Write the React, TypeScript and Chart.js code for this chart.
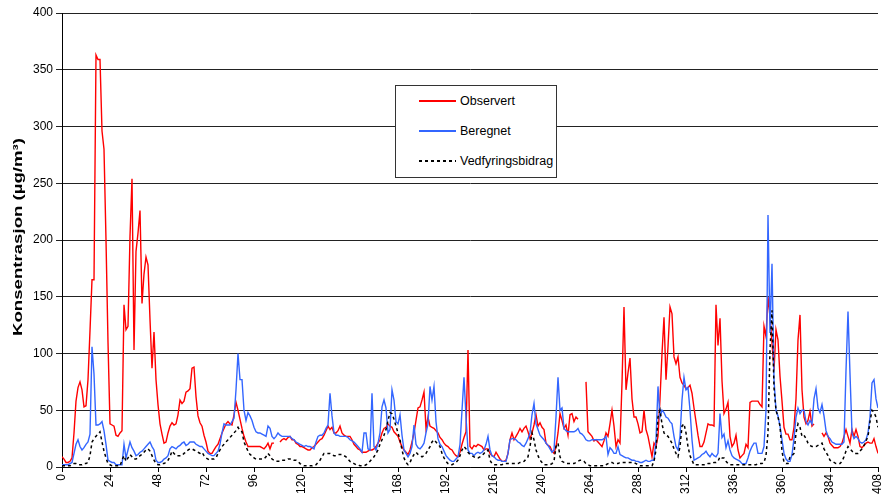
import React, { useEffect, useRef } from 'react';
import { Chart, registerables } from 'chart.js';

Chart.register(...registerables);

// Hourly values, hour 0..408
const observert: (number | null)[] = [
  /*0*/ 9, 7, 4, 4, 5, 8, 30, 58, 70, 75, 68, 53,
  /*12*/ 54, 77, 120, 165, 165, 363, 359, 359, 296, 280, 200, 110,
  /*24*/ 38, 37, 36, 28, 27, 30, 32, 143, 121, 124, 203, 254,
  /*36*/ 103, 190, 206, 226, 144, 170, 185, 178, 130, 87, 119, 77,
  /*48*/ 55, 38, 29, 21, 22, 30, 36, 39, 37, 38, 46, 59,
  /*60*/ 56, 58, 66, 67, 69, 87, 88, 62, 45, 39, 36, 28,
  /*72*/ 22, 14, 12, 12, 15, 18, 20, 25, 30, 34, 38, 40,
  /*84*/ 38, 37, 46, 57, 50, 42, 34, 27, 22, 18, 18, 18,
  /*96*/ 18, 18, 18, 18, 17, 16, 18, 21, 16, 21, 21, null,
  /*108*/ null, 22, 24, 25, 24, 26, 27, 24, 24, 21, 20, 18,
  /*120*/ 18, 17, 16, 15, 15, 17, 18, 20, 22, 24, 25, 28,
  /*132*/ 32, 36, 33, 35, 30, 30, 32, 36, 30, 28, 27, 27,
  /*144*/ 27, 24, 20, 18, 16, 15, 13, 13, 13, 14, 15, 15,
  /*156*/ 16, 18, 21, 24, 30, 34, 35, 38, 36, 35, 31, 29,
  /*168*/ 27, 22, 18, 15, 13, 11, 15, 22, 30, 41, 52, 53,
  /*180*/ 59, 66, 34, 44, 36, 35, 34, 32, 30, 26, 24, 21,
  /*192*/ 19, 18, 16, 15, 12, 10, 9, 13, 20, 26, 31, 103,
  /*204*/ 18, 16, 19, 18, 20, 19, 18, 15, 16, 16, 12, 10,
  /*216*/ 9, 13, 10, 7, 5, 5, 6, 12, 24, 30, 24, 27,
  /*228*/ 30, 34, 31, 34, 36, 31, 25, 30, 37, 46, 36, 39,
  /*240*/ 35, 33, 21, 19, 18, 14, 12, 18, 30, 47, 41, 34,
  /*252*/ 37, 28, 46, 47, 40, 44, 42, null, null, null, 75, 31,
  /*264*/ 29, 27, 23, 24, 22, 20, 18, 23, 30, 27, 38, 50,
  /*276*/ 36, 18, 24, 21, 74, 141, 68, 83, 96, 60, 44, 44,
  /*288*/ 38, 30, 31, 50, 33, 27, 18, 9, 21, 18, 27, 60,
  /*300*/ 100, 132, 77, 106, 141, 135, 97, 91, 97, 79, 74, 72,
  /*312*/ 69, 70, 72, 65, 52, 40, 28, 18, 18, 22, 30, 38,
  /*324*/ 37, 37, 36, 143, 107, 131, 76, 47, 51, 57, 27, 18,
  /*336*/ 21, 28, 15, 8, 10, 12, 20, 17, 57, 58, 58, 58,
  /*348*/ 58, 55, 53, 124, 115, 150, 132, 109, 85, 121, 112, 80,
  /*360*/ 58, 35, 29, 29, 24, 24, 35, 60, 112, 134, 68, 44,
  /*372*/ 38, 41, 49, 36, 38, null, null, null, 30, 27, 30, 27,
  /*384*/ 21, 19, 17, 17, 17, 18, 21, 27, 33, 27, 21, 33,
  /*396*/ 27, 33, 27, 18, 17, 19, 21, 22, 21, 21, 25, 18, 12,
];

const beregnet: number[] = [
  /*0*/ 2, 2, 2, 2, 3, 4, 12, 20, 24, 18, 15, 17,
  /*12*/ 20, 22, 29, 106, 82, 37, 37, 38, 40, 32, 20, 6,
  /*24*/ 5, 4, 4, 2, 2, 2, 2, 20, 8, 15, 22, 17,
  /*36*/ 14, 10, 11, 13, 14, 16, 18, 20, 22, 18, 15, 6,
  /*48*/ 4, 4, 5, 7, 8, 10, 16, 18, 17, 16, 18, 19,
  /*60*/ 21, 22, 19, 20, 22, 22, 22, 20, 19, 18, 18, 16,
  /*72*/ 14, 12, 11, 10, 10, 12, 14, 20, 30, 38, 37, 37,
  /*84*/ 37, 40, 43, 68, 100, 77, 77, 50, 41, 48, 45, 41,
  /*96*/ 35, 31, 30, 30, 29, 28, 27, 36, 34, 27, 25, 27,
  /*108*/ 30, 28, 27, 27, 27, 27, 27, 25, 24, 22, 21, 20,
  /*120*/ 19, 18, 19, 18, 18, 17, 16, 22, 27, 28, 28, 30,
  /*132*/ 34, 37, 65, 45, 30, 28, 28, 27, 27, 27, 27, 26,
  /*144*/ 24, 23, 22, 20, 18, 16, 13, 30, 30, 16, 15, 65,
  /*156*/ 18, 15, 21, 30, 53, 59, 52, 30, 33, 68, 59, 40,
  /*168*/ 38, 46, 28, 15, 12, 9, 12, 18, 37, 20, 17, 16,
  /*180*/ 18, 21, 30, 38, 71, 59, 71, 40, 25, 20, 18, 14,
  /*192*/ 10, 8, 6, 5, 5, 7, 9, 20, 50, 79, 44, 15,
  /*204*/ 12, 12, 10, 12, 13, 12, 13, 15, 20, 27, 15, 10,
  /*216*/ 9, 7, 6, 6, 5, 5, 5, 12, 24, 25, 25, 24,
  /*228*/ 22, 21, 19, 18, 21, 25, 30, 46, 56, 38, 33, 28,
  /*240*/ 26, 24, 21, 19, 16, 13, 15, 44, 79, 50, 52, 34,
  /*252*/ 32, 31, 31, 31, 31, 32, 34, 30, 29, 27, 24, 23,
  /*264*/ 23, 24, 24, 24, 24, 24, 24, 25, 27, 11, 17, 15,
  /*276*/ 12, 12, 18, 11, 10, 9, 8, 8, 7, 6, 6, 5,
  /*288*/ 5, 4, 4, 5, 6, 5, 5, 6, 6, 24, 71, 44,
  /*300*/ 50, 48, 44, 43, 40, 38, 27, 18, 15, 27, 59, 79,
  /*312*/ 68, 70, 50, 24, 6, 7, 8, 9, 11, 12, 14, 11,
  /*324*/ 9, 12, 10, 9, 12, 47, 26, 29, 17, 23, 15, 10,
  /*336*/ 8, 7, 6, 5, 3, 3, 3, 8, 14, 18, 21, 21,
  /*348*/ 12, 12, 12, 18, 50, 222, 118, 179, 77, 50, 45, 36,
  /*360*/ 24, 12, 7, 5, 5, 11, 25, 44, 52, 47, 50, 50,
  /*372*/ 40, 37, 41, 38, 60, 69, 52, 48, 55, 45, 32, 27,
  /*384*/ 25, 22, 21, 20, 20, 20, 20, 22, 85, 137, 82, 30,
  /*396*/ 25, 27, 25, 22, 21, 22, 24, 30, 44, 74, 77, 60, 52,
];

const vedfyringsbidrag: number[] = [
  /*0*/ 1, 1, 1, 1, 1, 2, 3, 3, 2, 2, 2, 3,
  /*12*/ 3, 4, 10, 22, 25, 27, 29, 31, 22, 14, 8, 3,
  /*24*/ 2, 1, 1, 1, 1, 1, 6, 10, 5, 8, 11, 9,
  /*36*/ 7, 7, 8, 10, 11, 13, 15, 16, 14, 10, 6, 3,
  /*48*/ 2, 2, 3, 3, 4, 6, 9, 14, 12, 10, 10, 10,
  /*60*/ 10, 12, 13, 15, 16, 16, 15, 14, 13, 12, 13, 10,
  /*72*/ 8, 7, 6, 7, 7, 8, 12, 15, 18, 20, 22, 24,
  /*84*/ 26, 28, 30, 32, 35, 32, 31, 22, 18, 14, 11, 10,
  /*96*/ 8, 7, 7, 7, 7, 7, 9, 12, 10, 7, 6, 5,
  /*108*/ 5, 5, 6, 6, 6, 7, 7, 7, 6, 6, 5, 3,
  /*120*/ 2, 1, 1, 1, 1, 1, 2, 2, 4, 6, 9, 12,
  /*132*/ 12, 12, 12, 11, 10, 10, 11, 11, 11, 10, 9, 7,
  /*144*/ 5, 4, 3, 2, 2, 1, 1, 1, 2, 3, 5, 7,
  /*156*/ 9, 12, 15, 20, 24, 28, 33, 41, 48, 47, 42, 36,
  /*168*/ 30, 24, 15, 8, 4, 2, 4, 8, 11, 13, 11, 10,
  /*180*/ 9, 10, 12, 15, 18, 22, 24, 22, 20, 18, 12, 8,
  /*192*/ 5, 3, 2, 2, 3, 4, 6, 10, 15, 18, 16, 13,
  /*204*/ 11, 10, 9, 8, 8, 9, 10, 12, 14, 15, 6, 3,
  /*216*/ 2, 2, 2, 2, 2, 3, 3, 3, 3, 3, 3, 3,
  /*228*/ 3, 4, 4, 5, 7, 9, 18, 30, 24, 15, 10, 6,
  /*240*/ 4, 2, 2, 2, 2, 3, 5, 18, 21, 9, 5, 4,
  /*252*/ 3, 3, 3, 3, 3, 4, 5, 6, 6, 5, 3, 2,
  /*264*/ 1, 1, 1, 1, 1, 1, 1, 1, 2, 3, 4, 4,
  /*276*/ 3, 3, 3, 4, 4, 4, 4, 4, 4, 4, 4, 3,
  /*288*/ 2, 1, 1, 1, 1, 1, 1, 1, 5, 15, 44, 50,
  /*300*/ 38, 30, 28, 27, 24, 21, 16, 12, 9, 18, 36, 38,
  /*312*/ 30, 18, 10, 6, 2, 2, 2, 2, 2, 2, 2, 3,
  /*324*/ 3, 3, 4, 4, 5, 9, 8, 8, 5, 3, 2, 2,
  /*336*/ 2, 2, 2, 2, 2, 2, 2, 2, 2, 2, 2, 2,
  /*348*/ 3, 3, 3, 4, 10, 30, 103, 138, 70, 50, 44, 36,
  /*360*/ 14, 4, 3, 3, 9, 10, 12, 30, 38, 35, 27, 28,
  /*372*/ 25, 21, 19, 18, 18, 18, 19, 20, 21, 16, 13, 10,
  /*384*/ 6, 5, 4, 3, 3, 3, 5, 9, 14, 18, 16, 14,
  /*396*/ 12, 12, 12, 14, 16, 19, 23, 27, 40, 50, 48, 44, 35,
];

const xMax = 408;
const xStep = 24;
const yMax = 400;
const yStep = 50;
const yTitle = 'Konsentrasjon (µg/m³)';
const seriesLabels = ['Observert', 'Beregnet', 'Vedfyringsbidrag'];
const FONT = '"Liberation Sans", Arial, Helvetica, sans-serif';

const toPoints = (arr: (number | null)[]) => arr.map((v, i) => ({ x: i, y: v }));

// Draws the y-axis title condensed (tall, narrow glyphs) like the reference.
const yTitlePlugin = {
  id: 'yTitleCondensed',
  afterDraw(chart: any) {
    const { ctx, chartArea } = chart;
    ctx.save();
    ctx.font = `bold 12px ${FONT}`;
    ctx.fillStyle = '#000';
    const w = ctx.measureText(yTitle).width;
    const cy = (chartArea.top + chartArea.bottom) / 2 - 3;
    ctx.translate(22, cy);
    ctx.rotate(-Math.PI / 2);
    ctx.scale(198 / w, 1);
    ctx.textAlign = 'center';
    ctx.textBaseline = 'alphabetic';
    ctx.fillText(yTitle, 0, 0);
    ctx.restore();
  },
};

export default function App() {
  const ref = useRef<HTMLCanvasElement>(null);

  useEffect(() => {
    if (!ref.current) return;
    const chart = new Chart(ref.current, {
      type: 'line',
      data: {
        datasets: [
          { label: seriesLabels[0], data: toPoints(observert), borderColor: '#ff0000', borderWidth: 1.4, pointRadius: 0, order: 3, spanGaps: false },
          { label: seriesLabels[1], data: toPoints(beregnet), borderColor: '#3366ff', borderWidth: 1.4, pointRadius: 0, order: 2 },
          { label: seriesLabels[2], data: toPoints(vedfyringsbidrag), borderColor: '#000000', borderWidth: 1.5, borderDash: [3, 3], pointRadius: 0, order: 1 },
        ],
      } as any,
      options: {
        animation: false,
        responsive: true,
        maintainAspectRatio: false,
        layout: { padding: { top: 13, right: 4, left: 0, bottom: 0 } },
        plugins: { legend: { display: false }, tooltip: { enabled: false } },
        elements: { line: { tension: 0 } },
        scales: {
          x: {
            type: 'linear',
            min: 0,
            max: xMax,
            ticks: {
              stepSize: xStep,
              autoSkip: false,
              minRotation: 90,
              maxRotation: 90,
              color: '#000',
              padding: 2,
              font: { family: FONT, size: 12 },
            },
            grid: { drawOnChartArea: false, drawTicks: true, tickLength: 5, color: '#000' },
            border: { color: '#000', width: 1 },
            afterFit: (s: any) => { s.height = 34; s.paddingLeft = 0; s.paddingRight = 0; },
          },
          y: {
            min: 0,
            max: yMax,
            ticks: { stepSize: yStep, color: '#000', padding: 3, font: { family: FONT, size: 12 } },
            grid: { color: '#222', tickLength: 6, lineWidth: 1 },
            border: { color: '#000', width: 1 },
            title: { display: false, text: yTitle },
            afterFit: (s: any) => { s.width = 62; s.paddingTop = 0; s.paddingBottom = 0; },
          },
        },
      } as any,
      plugins: [yTitlePlugin],
    });
    return () => chart.destroy();
  }, []);

  const lineStyle = (bg: string): React.CSSProperties => ({ position: 'absolute', left: 23, width: 37, height: 2, background: bg });
  const textStyle: React.CSSProperties = { position: 'absolute', left: 64, lineHeight: '16px', fontSize: 12.5, whiteSpace: 'nowrap' };

  return (
    <div style={{ position: 'fixed', left: 0, top: 0, width: 882, height: 501, background: '#fff' }}>
      <canvas ref={ref} />
      <div style={{ position: 'absolute', left: 395, top: 85, width: 160, height: 91, border: '1px solid #333', background: '#fff', fontFamily: FONT, color: '#000' }}>
        <div style={{ ...lineStyle('#ff0000'), top: 14 }} />
        <div style={{ ...textStyle, top: 7 }}>{seriesLabels[0]}</div>
        <div style={{ ...lineStyle('#3366ff'), top: 44 }} />
        <div style={{ ...textStyle, top: 37 }}>{seriesLabels[1]}</div>
        <div style={{ ...lineStyle('repeating-linear-gradient(to right, #000 0 3px, transparent 3px 6px)'), top: 74 }} />
        <div style={{ ...textStyle, top: 67 }}>{seriesLabels[2]}</div>
      </div>
    </div>
  );
}
